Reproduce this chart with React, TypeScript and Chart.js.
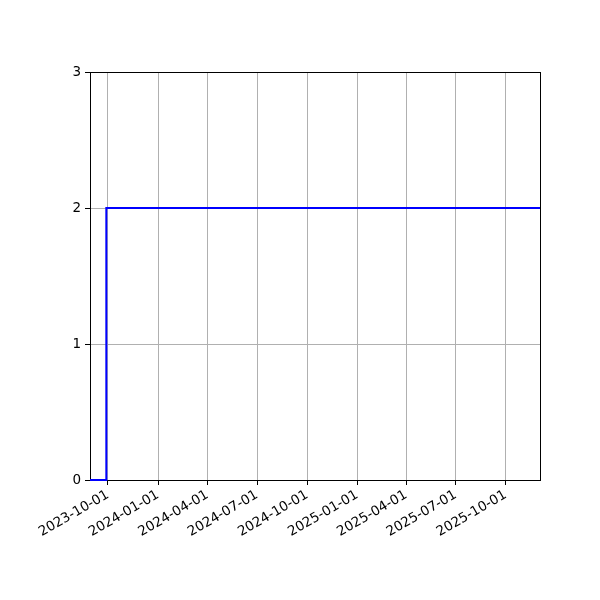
import React, { useEffect, useRef } from "react";
import { Chart, registerables } from "chart.js";

Chart.register(...registerables);

const stepDates = ["2023-08-29", "2023-09-28", "2023-09-28", "2025-12-03"];
const stepValues = [0, 0, 2, 2];
const tickDates = [
  "2023-10-01", "2024-01-01", "2024-04-01", "2024-07-01", "2024-10-01",
  "2025-01-01", "2025-04-01", "2025-07-01", "2025-10-01",
];
const xMinDate = "2023-08-29";
const xMaxDate = "2025-12-03";
const yTicks = [0, 1, 2, 3];

const DAY = 86400000;
const toDay = (s: string) => Date.parse(s + "T00:00:00Z") / DAY;
const fmt = (d: number) => new Date(Math.round(d) * DAY).toISOString().slice(0, 10);

const frame = {
  id: "frame",
  beforeDatasetsDraw(chart: any) {
    const { ctx, chartArea: a } = chart;
    ctx.save();
    ctx.strokeStyle = "#000";
    ctx.lineWidth = 1;
    ctx.strokeRect(Math.round(a.left) + 0.5, Math.round(a.top) + 0.5, Math.round(a.right - a.left), Math.round(a.bottom - a.top));
    ctx.restore();
  },
};

export default function App() {
  const ref = useRef<HTMLCanvasElement>(null);
  useEffect(() => {
    document.body.style.margin = "0";
    const font = { family: "'DejaVu Sans', sans-serif", size: 13.5 };
    const chart = new Chart(ref.current!, {
      type: "line",
      data: {
        datasets: [
          {
            data: stepDates.map((d, i) => ({ x: toDay(d), y: stepValues[i] })),
            borderColor: "#0000ff",
            borderWidth: 2,
            pointRadius: 0,
            fill: false,
            tension: 0,
            clip: 3,
          },
        ],
      },
      options: {
        animation: false,
        responsive: false,
        layout: { padding: { left: 0, top: 72, right: 60, bottom: 0 } },
        plugins: { legend: { display: false }, tooltip: { enabled: false } },
        scales: {
          x: {
            type: "linear",
            min: toDay(xMinDate),
            max: toDay(xMaxDate),
            afterBuildTicks: (s: any) => {
              s.ticks = tickDates.map((d) => ({ value: toDay(d) }));
            },
            afterFit: (s: any) => {
              s.height = 120;
            },
            ticks: {
              color: "#000",
              font,
              minRotation: 30,
              maxRotation: 30,
              autoSkip: false,
              padding: 2,
              callback: (v: any) => fmt(Number(v)),
            },
            grid: { color: "#b0b0b0", lineWidth: 1, tickColor: "#000", tickLength: 5 },
            border: { display: false },
          },
          y: {
            type: "linear",
            min: 0,
            max: 3,
            afterBuildTicks: (s: any) => {
              s.ticks = yTicks.map((v) => ({ value: v }));
            },
            afterFit: (s: any) => {
              s.width = 90;
            },
            ticks: { color: "#000", font, padding: 4, callback: (v: any) => String(v) },
            grid: { color: "#b0b0b0", lineWidth: 1, tickColor: "#000", tickLength: 5 },
            border: { display: false },
          },
        },
      },
      plugins: [frame],
    } as any);
    return () => chart.destroy();
  }, []);
  return <canvas ref={ref} width={600} height={600} style={{ display: "block" }} />;
}
